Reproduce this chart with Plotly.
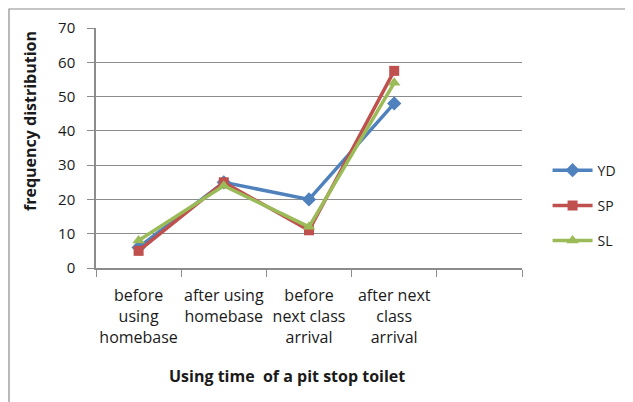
import plotly.graph_objects as go

# categories on the x axis (a 5th empty slot is left on the right, like the original)
categories = ['before<br>using<br>homebase', 'after using<br>homebase',
              'before<br>next class<br>arrival', 'after next<br>class<br>arrival']
cat_pos = [0, 1, 2, 3]

yd = [6, 25, 20, 48]
sp = [5, 25, 11, 57.5]
sl = [8, 24, 12, 54]

fig = go.Figure()
series = [('YD', yd, '#4F81BD', 'diamond', 11),
          ('SP', sp, '#C0504D', 'square', 10),
          ('SL', sl, '#9BBB59', 'triangle-up', 11)]
for name, vals, col, sym, sz in series:
    fig.add_trace(go.Scatter(
        x=cat_pos, y=vals, name=name, mode='lines+markers',
        line=dict(color=col, width=3.5),
        marker=dict(symbol=sym, size=sz, color=col),
        legendgroup=name,
    ))

font = "Open Sans, Liberation Sans, sans-serif"

# page body adds an 8px offset, so the figure is 8px smaller
fig.update_layout(
    width=625, height=394,
    margin=dict(l=88, r=111, t=20, b=134),
    paper_bgcolor='white', plot_bgcolor='white',
    font=dict(family=font, size=14, color='#1a1a1a'),
    showlegend=True,
    legend=dict(x=1.06, y=0.26, xanchor='left', yanchor='middle',
                font=dict(size=14), tracegroupgap=14, itemwidth=40),
    xaxis=dict(
        range=[-0.5, 4.5], tickvals=cat_pos, ticktext=categories,
        ticks='', showgrid=False, zeroline=False, automargin=False,
        showline=True, linecolor='#8c8c8c', linewidth=1.5,
        minor=dict(tickvals=[-0.5, 0.5, 1.5, 2.5, 3.5, 4.5], ticks='outside',
                   ticklen=7, tickcolor='#8c8c8c', showgrid=False),
        tickfont=dict(size=16), ticklabelstandoff=12,
    ),
    yaxis=dict(
        range=[0, 70], dtick=10, showgrid=True, gridcolor='#8c8c8c', gridwidth=1.2,
        zeroline=False, showline=True, linecolor='#8c8c8c', linewidth=1.5,
        ticks='outside', ticklen=7, tickcolor='#8c8c8c', automargin=False,
        tickfont=dict(size=15), ticklabelstandoff=9,
    ),
    annotations=[
        dict(text='<b>frequency distribution</b>', xref='paper', yref='paper',
             x=-0.155, y=0.6125, xanchor='center', yanchor='middle',
             textangle=-90, showarrow=False, font=dict(size=16)),
        dict(text='<b>Using time  of a pit stop toilet</b>', xref='paper', yref='paper',
             x=0.448, y=-0.45, xanchor='center', yanchor='middle',
             showarrow=False, font=dict(size=16)),
    ],
    shapes=[dict(type='rect', xref='paper', yref='paper',
                 x0=(1 - 88) / 426, x1=(640 - 88) / 426,
                 y0=(260 - 420) / 240, y1=(260 - 1) / 240,
                 line=dict(color='#8c8c8c', width=1.2))],
)

fig.write_html("out.html")
